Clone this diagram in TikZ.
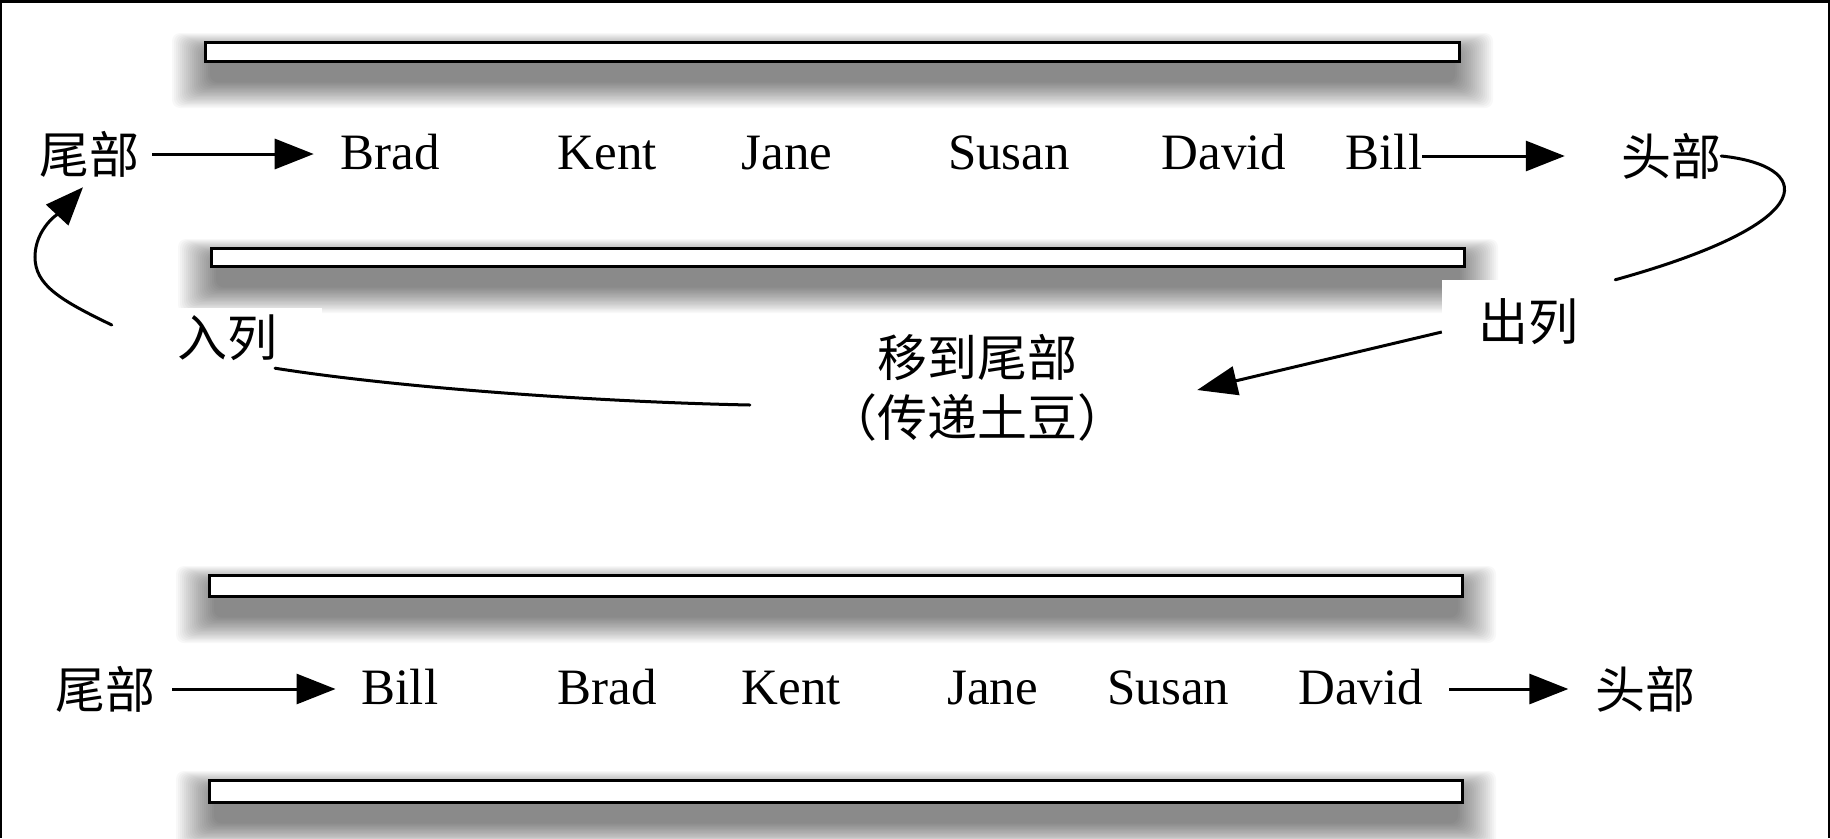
\documentclass[tikz,border=0pt]{standalone}
\usepackage{fontspec}
\setmainfont{Liberation Serif}
\newfontfamily\cjk{Noto Sans CJK SC}
\usetikzlibrary{arrows.meta,calc}
\tikzset{
  barline/.style={draw=black, line width=3pt, fill=white},
  person/.style={font=\fontsize{51}{60}\selectfont, inner sep=0pt, anchor=base},
  zh/.style={font=\cjk\fontsize{50}{60}\selectfont, inner sep=0pt},
  arr/.style={line width=3pt, -{Triangle[length=39pt,width=30pt]}},
  bendline/.style={line width=3pt, line cap=round},
}
\newcommand\shadowbar[4]{%
  \foreach \k in {0,...,19}{%
    \fill[black,opacity=0.026,rounded corners=8pt] ({#1-32+2.0*\k},{#2-8+1.0*\k}) rectangle ({#3+32-2.0*\k},{#4+45-1.35*\k});
  }%
  \draw[barline] ({#1+1.5},{#2+1.5}) rectangle ({#3-1.5},{#4-1.5});
}
\begin{document}
\begin{tikzpicture}[x=1pt,y=-1pt]
\clip (0,0) rectangle (1830,838);
\fill[white] (0,0) rectangle (1830,838);

% bars with shadows
\shadowbar{204}{41}{1461}{63}
\shadowbar{210}{247}{1466}{268}
\shadowbar{208}{574}{1464}{598}
\shadowbar{208}{779}{1464}{804}

% row 1
\node[zh] (tail1) at (89,154) {尾部};
\node[person] (brad1) at (390.5,169) {Brad};
\node[person] (kent1) at (607.5,169) {Kent};
\node[person] (jane1) at (787,169) {Jane};
\node[person] (susan1) at (1009,169) {Susan};
\node[person] (david1) at (1224,169) {David};
\node[person] (bill1) at (1384,169) {Bill};
\node[zh] (head1) at (1671,156) {头部};

\draw[arr, shorten <=13pt, shorten >=27pt] (tail1.east) -- (tail1.east -| brad1.west);
\draw[arr, shorten >=56pt] (head1.west -| bill1.east) -- (head1.west);

% middle labels
\node[zh, fill=white, minimum width=173pt, minimum height=84pt] (outq) at (1528.5,322) {出列};
\node[zh, fill=white, minimum width=190pt, minimum height=60pt] (inq) at (227,338) {入列};
\node[zh, align=center] (move) at (977,388) {移到尾部\\（传递土豆）};

\draw[bendline] (head1.east) .. controls ($(head1.east)+(89,9)$) and ($(head1.east)+(109,64)$) .. (outq.north east);
\draw[arr, -{Triangle[length=40pt,width=29pt]}] ($(outq.west)+(0,10)$) -- ($(move.east)+(70,2)$);
\draw[bendline] ($(move.west)+(-77,17)$) .. controls (600,402) and (400,388) .. ($(inq.south)+(48,0)$);
\draw[bendline, -{Triangle[length=38pt,width=30pt]}] ($(inq.west)+(-20,-13)$) .. controls (60,300) and (35,285) .. (35,257) .. controls (35,228) and (60,212) .. ($(tail1.south)+(-6,10)$);

% row 2
\node[zh] (tail2) at (105,689) {尾部};
\node[person] (bill2) at (400,704) {Bill};
\node[person] (brad2) at (607,704) {Brad};
\node[person] (kent2) at (791.5,704) {Kent};
\node[person] (jane2) at (992.5,704) {Jane};
\node[person] (susan2) at (1168.5,704) {Susan};
\node[person] (david2) at (1360.5,704) {David};
\node[zh] (head2) at (1645.5,689) {头部};

\draw[arr, shorten <=17pt, shorten >=26pt] (tail2.east) -- (tail2.east -| bill2.west);
\draw[arr, shorten <=26pt, shorten >=27pt] (head2.west -| david2.east) -- (head2.west);

% frame
\fill[black] (0,0) rectangle (1830,3);
\fill[black] (0,0) rectangle (1.5,838);
\fill[black] (1828,0) rectangle (1830,838);
\end{tikzpicture}
\end{document}
